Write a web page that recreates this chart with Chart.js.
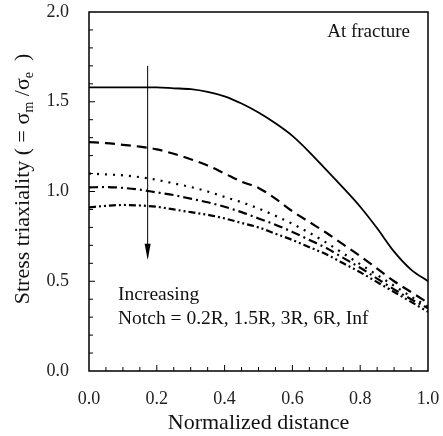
<!DOCTYPE html>
<html>
<head>
<meta charset="utf-8">
<script src="https://cdn.jsdelivr.net/npm/chart.js@4.4.1/dist/chart.umd.min.js"></script>
<style>
  html, body { margin: 0; padding: 0; background: #fff; }
  #wrap { width: 443px; height: 436px; }
</style>
</head>
<body>
<div id="wrap"><canvas id="chart" width="443" height="436"></canvas></div>
<script>
// === data ===
const distance = [0, 0.05, 0.1, 0.15, 0.2, 0.25, 0.3, 0.35, 0.4, 0.45, 0.5,
                  0.55, 0.6, 0.65, 0.7, 0.75, 0.8, 0.85, 0.9, 0.95, 1.0];
const notch02R = [1.58, 1.58, 1.58, 1.58, 1.58, 1.575, 1.57, 1.555, 1.53, 1.49, 1.44,
                  1.38, 1.31, 1.22, 1.12, 1.02, 0.915, 0.795, 0.665, 0.565, 0.50];
const notch15R = [1.275, 1.27, 1.26, 1.25, 1.235, 1.21, 1.18, 1.145, 1.10, 1.055, 1.02,
                  0.96, 0.89, 0.83, 0.77, 0.705, 0.64, 0.57, 0.50, 0.44, 0.38];
const notch3R  = [1.10, 1.095, 1.09, 1.08, 1.065, 1.045, 1.025, 1.0, 0.97, 0.94, 0.905,
                  0.865, 0.82, 0.77, 0.715, 0.655, 0.595, 0.535, 0.475, 0.415, 0.36];
const notch6R  = [1.023, 1.025, 1.02, 1.01, 0.995, 0.98, 0.96, 0.94, 0.915, 0.885, 0.85,
                  0.815, 0.775, 0.73, 0.685, 0.63, 0.575, 0.515, 0.455, 0.40, 0.35];
const notchInf = [0.912, 0.92, 0.925, 0.922, 0.915, 0.90, 0.885, 0.87, 0.85, 0.825, 0.80,
                  0.765, 0.73, 0.69, 0.65, 0.60, 0.55, 0.495, 0.44, 0.385, 0.33];

const xTicks = [0, 0.2, 0.4, 0.6, 0.8, 1.0];
const yTicks = [0, 0.5, 1.0, 1.5, 2.0];

// arrow "increasing notch"
const arrowX = 0.173;
const arrowTop = 1.70;
const arrowBottom = 0.62;

const SERIF = '"Liberation Serif", "DejaVu Serif", serif';

function pts(ys) {
  const out = [];
  for (let i = 0; i < distance.length; i++) out.push({ x: distance[i], y: ys[i] });
  return out;
}

function lineSet(label, ys, dash, width) {
  return {
    label: label,
    data: pts(ys),
    borderColor: "#000",
    borderWidth: width,
    borderDash: dash,
    pointRadius: 0,
    fill: false,
    cubicInterpolationMode: "monotone",
  };
}

// frame, inward ticks, arrow, notes and the y title with subscripts
const decor = {
  id: "decor",
  afterDraw(chart) {
    const ctx = chart.ctx;
    const a = chart.chartArea;
    const xs = chart.scales.x;
    const ys = chart.scales.y;
    ctx.save();
    ctx.strokeStyle = "#000";
    ctx.lineWidth = 1.5;
    ctx.strokeRect(a.left, a.top, a.right - a.left, a.bottom - a.top);

    // minor ticks
    ctx.lineWidth = 1;
    ctx.beginPath();
    for (let i = 1; i < 20; i++) {
      const px = xs.getPixelForValue(i * 0.05);
      const len = (i % 4 === 0) ? 6 : 4;
      ctx.moveTo(px, a.bottom);
      ctx.lineTo(px, a.bottom - len);
    }
    for (let i = 1; i < 20; i++) {
      const py = ys.getPixelForValue(i * 0.1);
      const len = (i % 5 === 0) ? 6 : 4;
      ctx.moveTo(a.left, py);
      ctx.lineTo(a.left + len, py);
    }
    ctx.stroke();

    // arrow
    const ax = xs.getPixelForValue(arrowX);
    const ay1 = ys.getPixelForValue(arrowTop);
    const ay2 = ys.getPixelForValue(arrowBottom);
    ctx.beginPath();
    ctx.moveTo(ax, ay1);
    ctx.lineTo(ax, ay2 - 2);
    ctx.stroke();
    ctx.beginPath();
    ctx.moveTo(ax, ay2);
    ctx.lineTo(ax - 3, ay2 - 16);
    ctx.lineTo(ax + 3, ay2 - 16);
    ctx.closePath();
    ctx.fillStyle = "#000";
    ctx.fill();

    // notes
    ctx.fillStyle = "#111";
    ctx.font = "19px " + SERIF;
    ctx.textBaseline = "middle";
    ctx.textAlign = "right";
    ctx.fillText("At fracture", a.right - 18, a.top + 20);
    ctx.textAlign = "left";
    ctx.font = "19.5px " + SERIF;
    ctx.fillText("Increasing", 118, 295);
    ctx.fillText("Notch = 0.2R, 1.5R, 3R, 6R, Inf", 118, 319);

    // y title
    ctx.translate(23, 179);
    ctx.rotate(-Math.PI / 2);
    const parts = [
      ["Stress triaxiality ( = \u03c3", 22, 0],
      ["m", 14, 6],
      [" /\u03c3", 22, 0],
      ["e", 14, 6],
      ["  )", 22, 0],
    ];
    let total = 0;
    for (const p of parts) { ctx.font = p[1] + "px " + SERIF; total += ctx.measureText(p[0]).width; }
    let cx = -total / 2;
    ctx.textAlign = "left";
    ctx.textBaseline = "middle";
    for (const p of parts) {
      ctx.font = p[1] + "px " + SERIF;
      ctx.fillText(p[0], cx, p[2]);
      cx += ctx.measureText(p[0]).width;
    }
    ctx.restore();
  },
};

new Chart(document.getElementById("chart"), {
  type: "line",
  data: {
    datasets: [
      lineSet("0.2R", notch02R, [], 1.8),
      lineSet("1.5R", notch15R, [10, 6], 2.2),
      lineSet("3R", notch3R, [2, 6], 2.2),
      lineSet("6R", notch6R, [9, 4, 2, 4], 2.2),
      lineSet("Inf", notchInf, [7, 3, 2, 3, 2, 3], 2.2),
    ],
  },
  options: {
    responsive: false,
    animation: false,
    layout: { padding: { left: 0, right: 15, top: 12, bottom: 0 } },
    plugins: { legend: { display: false }, tooltip: { enabled: false } },
    scales: {
      x: {
        type: "linear",
        min: 0,
        max: 1,
        afterBuildTicks(s) { s.ticks = xTicks.map(v => ({ value: v })); },
        afterFit(s) { s.height = 65; s.paddingLeft = 0; s.paddingRight = 0; },
        grid: { display: false },
        border: { display: false },
        ticks: {
          padding: 9,
          color: "#222",
          font: { family: SERIF, size: 18 },
          maxRotation: 0,
          callback: v => v.toFixed(1),
        },
        title: {
          display: true,
          text: "Normalized distance",
          color: "#111",
          font: { family: SERIF, size: 22 },
          padding: { top: 0, bottom: 0 },
        },
      },
      y: {
        min: 0,
        max: 2,
        afterBuildTicks(s) { s.ticks = yTicks.map(v => ({ value: v })); },
        afterFit(s) { s.width = 89; s.paddingTop = 0; s.paddingBottom = 0; },
        grid: { display: false },
        border: { display: false },
        ticks: {
          padding: 12,
          color: "#222",
          font: { family: SERIF, size: 18 },
          callback: v => v.toFixed(1),
        },
      },
    },
  },
  plugins: [decor],
});
</script>
</body>
</html>
